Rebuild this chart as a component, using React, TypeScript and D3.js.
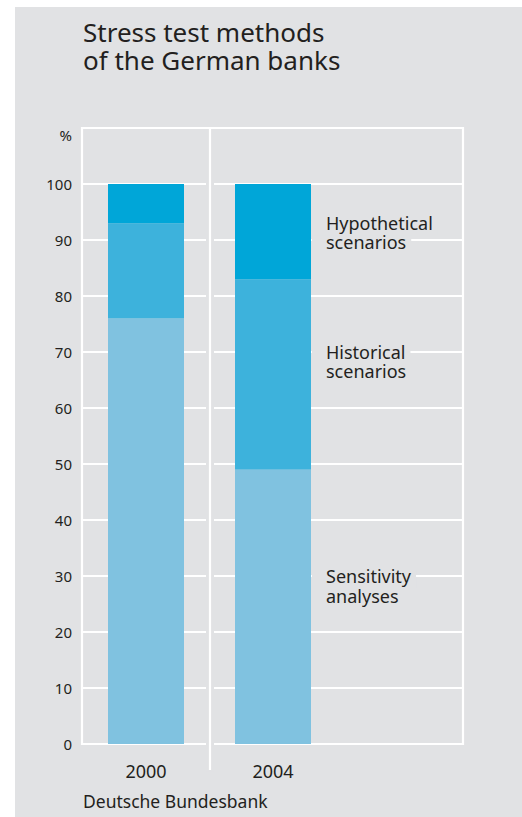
import React from "react";
import * as d3 from "d3";

const years = ["2000", "2004"];
const seriesNames = ["Sensitivity analyses", "Historical scenarios", "Hypothetical scenarios"];
const sensitivity = [76, 49];
const historical = [17, 34];
const hypothetical = [7, 17];
const yTicks = [0, 10, 20, 30, 40, 50, 60, 70, 80, 90, 100];
const labelLines = [["Sensitivity", "analyses"], ["Historical", "scenarios"], ["Hypothetical", "scenarios"]];
const labelAnchors = [28.7, 68.8, 91.8];

const W = 522;
const H = 817;
const FONT = "'Noto Sans', 'Open Sans', sans-serif";
const colors = ["#80c2e0", "#3db2dc", "#00a6d8"];
const BG = "#e1e2e4";
const TEXT = "#231f20";

function measure(text: string, size: number): number {
  try {
    const c = document.createElement("canvas").getContext("2d");
    if (c) {
      c.font = `${size}px 'Noto Sans', 'Open Sans', sans-serif`;
      return c.measureText(text).width;
    }
  } catch (e) {}
  return text.length * size * 0.5;
}

export default function App() {
  const left = 82;
  const right = 463;
  const sepX = 210;
  const y = d3.scaleLinear().domain([0, 110]).range([744, 128]);
  const x = d3.scaleOrdinal<string, number>().domain(years).range([146, 273]);
  const barW = 76;
  const LS = 18;

  const rows = years.map((yr, i) => ({
    year: yr,
    s0: sensitivity[i],
    s1: historical[i],
    s2: hypothetical[i],
  }));
  const stack = d3.stack<any>().keys(["s0", "s1", "s2"])(rows);

  const gridY = [...yTicks, 110];

  return (
    <svg width={W} height={H} style={{ position: "absolute", left: 0, top: 0 }}>
      <rect x={0} y={0} width={W} height={H} fill="#ffffff" />
      <rect x={15} y={7} width={W - 15} height={H - 7} fill={BG} />
      <text x={83} y={42} fontFamily={FONT} fontSize={26} fill={TEXT}>Stress test methods</text>
      <text x={83} y={70} fontFamily={FONT} fontSize={26} fill={TEXT}>of the German banks</text>

      {/* gridlines */}
      {gridY.map((t) => (
        <line key={t} x1={left} x2={right} y1={y(t)} y2={y(t)} stroke="#ffffff" strokeWidth={2.2} />
      ))}
      <line x1={left} x2={left} y1={y(110) - 1} y2={y(0) + 1} stroke="#ffffff" strokeWidth={2.2} />
      <line x1={right} x2={right} y1={y(110) - 1} y2={y(0) + 1} stroke="#ffffff" strokeWidth={2.2} />
      {/* separator */}
      <rect x={sepX - 4} y={y(110) + 1.2} width={8} height={770 - y(110)} fill={BG} />
      <line x1={sepX} x2={sepX} y1={y(110) - 1} y2={770} stroke="#ffffff" strokeWidth={2.2} />

      {/* bars */}
      {stack.map((layer, li) =>
        layer.map((d, i) => (
          <rect
            key={`${li}-${i}`}
            x={(x(years[i]) as number) - barW / 2}
            y={y(d[1])}
            width={barW}
            height={y(d[0]) - y(d[1])}
            fill={colors[li]}
          />
        ))
      )}

      {/* y tick labels */}
      {yTicks.map((t) => (
        <text key={t} x={72} y={y(t) + 5.5} textAnchor="end" fontFamily={FONT} fontSize={15} fill={TEXT}>
          {t}
        </text>
      ))}
      <text x={72} y={y(110) + 13} textAnchor="end" fontFamily={FONT} fontSize={15} fill={TEXT}>%</text>

      {/* x labels */}
      {years.map((yr) => (
        <text key={yr} x={x(yr) as number} y={778} textAnchor="middle" fontFamily={FONT} fontSize={18} fill={TEXT}>
          {yr}
        </text>
      ))}

      {/* series labels */}
      {labelLines.map((lines, i) => {
        const by = y(labelAnchors[i]);
        return (
          <g key={seriesNames[i]}>
            {lines.map((l, j) => (
              <rect
                key={`r${j}`}
                x={312}
                y={by + j * 19.5 - 14}
                width={326 - 312 + measure(l, LS) + 5}
                height={19.5}
                fill={BG}
              />
            ))}
            {lines.map((l, j) => (
              <text key={j} x={326} y={by + j * 19.5} fontFamily={FONT} fontSize={LS} fill={TEXT}>
                {l}
              </text>
            ))}
          </g>
        );
      })}

      <text x={83} y={808} fontFamily={FONT} fontSize={17.5} fill={TEXT}>Deutsche Bundesbank</text>
    </svg>
  );
}
